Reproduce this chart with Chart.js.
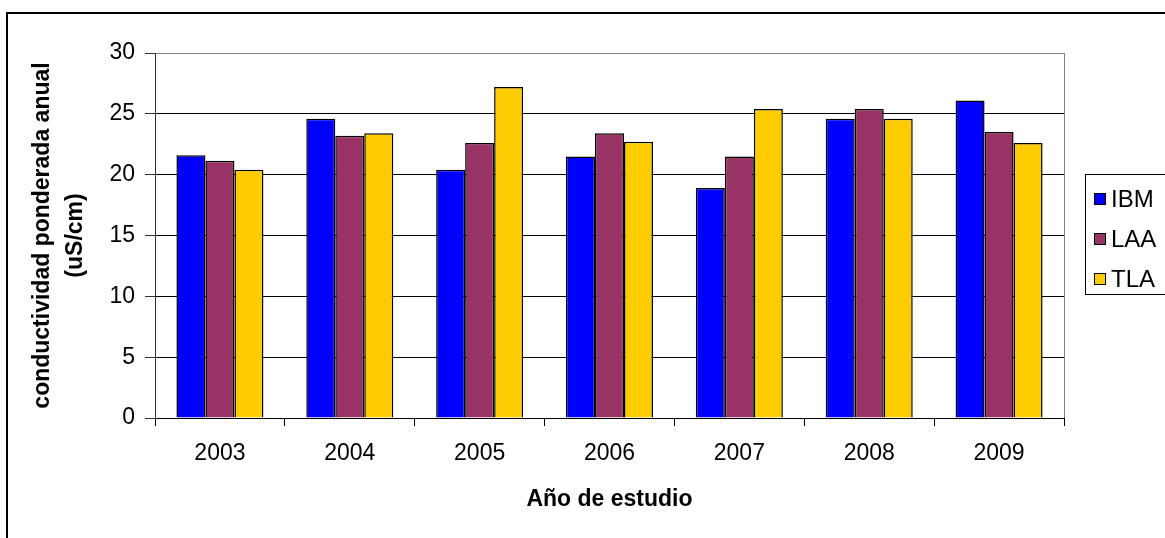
<!DOCTYPE html>
<html>
<head>
<meta charset="utf-8">
<script src="https://cdn.jsdelivr.net/npm/chart.js@4/dist/chart.umd.min.js"></script>
<style>
  html, body { margin: 0; padding: 0; background: #fff; }
  #wrap { width: 1165px; height: 538px; }
</style>
</head>
<body>
<div id="wrap"><canvas id="chart" width="1165" height="538"></canvas></div>
<script>
// values
const years = ["2003", "2004", "2005", "2006", "2007", "2008", "2009"];
const ibm = [21.6, 24.6, 20.4, 21.5, 18.9, 24.6, 26.1];
const laa = [21.15, 23.2, 22.6, 23.4, 21.5, 25.4, 23.5];
const tla = [20.4, 23.4, 27.2, 22.7, 25.4, 24.6, 22.6];
const yTicks = [0, 5, 10, 15, 20, 25, 30];

const FONT = "Arial, 'Liberation Sans', sans-serif";

// outer frame of the chart object (only top and left edges are visible)
const framePlugin = {
  id: "frame",
  beforeDraw(chart) {
    const ctx = chart.ctx;
    ctx.save();
    ctx.fillStyle = "#fff";
    ctx.fillRect(0, 0, chart.width, chart.height);
    ctx.strokeStyle = "#000";
    ctx.lineWidth = 2;
    ctx.strokeRect(7, 13, 3000, 3000);
    ctx.restore();
  },
  beforeDatasetsDraw(chart) {
    // grey right edge of the plot area
    const { ctx, chartArea } = chart;
    ctx.save();
    ctx.strokeStyle = "#808080";
    ctx.lineWidth = 1;
    ctx.beginPath();
    ctx.moveTo(Math.round(chartArea.right) + 0.5, chartArea.top);
    ctx.lineTo(Math.round(chartArea.right) + 0.5, chartArea.bottom);
    ctx.stroke();
    ctx.restore();
  },
};

// legend box on the right, like the Excel one
const boxLegend = {
  id: "boxLegend",
  afterDraw(chart) {
    const ctx = chart.ctx;
    const left = 1085, top = 174, height = 120;
    ctx.save();
    ctx.strokeStyle = "#000";
    ctx.lineWidth = 1;
    ctx.strokeRect(left + 0.5, top + 0.5, 200, height);
    ctx.font = "24px " + FONT;
    ctx.textBaseline = "middle";
    chart.data.datasets.forEach((ds, i) => {
      const cy = top + 25 + i * 40;
      ctx.fillStyle = ds.backgroundColor;
      ctx.fillRect(1094, cy - 6, 12, 12);
      ctx.strokeStyle = "#000";
      ctx.strokeRect(1094.5, cy - 5.5, 11, 11);
      ctx.fillStyle = "#000";
      ctx.fillText(ds.label, 1111, cy + 1);
    });
    ctx.restore();
  },
};

const ctx = document.getElementById("chart").getContext("2d");
new Chart(ctx, {
  type: "bar",
  data: {
    labels: years,
    datasets: [
      { label: "IBM", data: ibm, backgroundColor: "#0000FF" },
      { label: "LAA", data: laa, backgroundColor: "#993366" },
      { label: "TLA", data: tla, backgroundColor: "#FFCC00" },
    ],
  },
  options: {
    responsive: false,
    animation: false,
    layout: { padding: { left: 0, right: 101, top: 53, bottom: 0 } },
    datasets: {
      bar: {
        categoryPercentage: 0.67,
        barPercentage: 1,
        borderColor: "#000",
        borderWidth: 1.5,
      },
    },
    plugins: {
      legend: { display: false },
      tooltip: { enabled: false },
    },
    scales: {
      x: {
        afterFit(scale) { scale.height = 120; },
        grid: {
          offset: true,
          drawOnChartArea: false,
          drawTicks: true,
          tickLength: 8,
          color: "#000",
        },
        border: { display: true, color: "#000", width: 1 },
        ticks: {
          color: "#000",
          font: { family: FONT, size: 23 },
          padding: 14,
          maxRotation: 0,
        },
        title: {
          display: true,
          text: "Año de estudio",
          color: "#000",
          font: { family: FONT, size: 23, weight: "bold" },
          padding: { top: 0, bottom: 25 },
        },
      },
      y: {
        min: 0,
        max: 30,
        afterFit(scale) { scale.width = 155; },
        afterBuildTicks(scale) {
          scale.ticks = yTicks.map((v) => ({ value: v }));
        },
        grid: {
          color: (c) => (c.tick && c.tick.value === 30 ? "#808080" : "#000"),
          tickColor: "#333",
          tickLength: 10,
          lineWidth: 1,
        },
        border: { display: true, color: "#333", width: 1 },
        ticks: {
          color: "#000",
          font: { family: FONT, size: 23 },
          padding: 10,
        },
        title: {
          display: true,
          text: ["conductividad ponderada anual", "(uS/cm)"],
          color: "#000",
          font: { family: FONT, size: 23, weight: "bold", lineHeight: 1.4 },
          padding: { top: 27, bottom: 0 },
        },
      },
    },
  },
  plugins: [framePlugin, boxLegend],
});
</script>
</body>
</html>
